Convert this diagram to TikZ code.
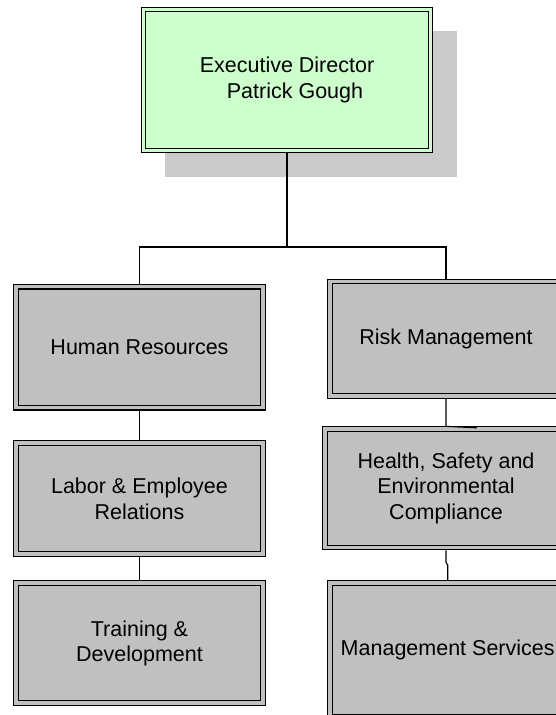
\documentclass[tikz,border=0pt]{standalone}
\usepackage{fontspec}
\setmainfont{Liberation Sans}
\usetikzlibrary{backgrounds}
\definecolor{boxgray}{HTML}{C0C0C0}
\definecolor{mint}{HTML}{CCFFCC}
\definecolor{shadowgray}{HTML}{CBCBCB}
\tikzset{
  unit/.style={draw=black, line width=1.1pt, double distance=3.6pt,
    outer sep=2.9pt, inner sep=0pt, align=center,
    font=\fontsize{21.5}{25.5}\selectfont},
  dept/.style={unit, double=boxgray, fill=boxgray},
  head/.style={unit, double=mint, fill=mint, double distance=2.6pt, outer sep=2.4pt},
  link/.style={draw=black, line width=1.1pt}
}
\begin{document}
\begin{tikzpicture}[x=1pt, y=-1pt]
  \clip (0,0) rectangle (556,715);

  % director
  \node[head, minimum width=287pt, minimum height=141pt] (exec) at (287,80)
    {Executive Director\\\hspace*{16pt}Patrick Gough};
  \begin{scope}[on background layer]
    \fill[white] (0,0) rectangle (556,715);
    \fill[shadowgray] ([shift={(24pt,-24pt)}]exec.north west) rectangle ([shift={(24pt,-24pt)}]exec.south east);
  \end{scope}

  % left column
  \node[dept, minimum width=247.5pt, minimum height=121pt] (hr) at (139.5,347.1) {Human Resources};
  \node[dept, minimum width=247.5pt, minimum height=111pt] (labor) at (139.5,498.7) {Labor \& Employee\\Relations};
  \node[dept, minimum width=247.5pt, minimum height=120pt] (train) at (139.5,643.2) {Training \&\\Development};

  % right column
  \node[dept, minimum width=232pt, minimum height=114.3pt] (risk) at (446,338.7) {Risk Management};
  \node[dept, minimum width=241.6pt, minimum height=118.3pt] (hsec) at (446,488.4) {Health, Safety and\\Environmental\\Compliance};
  \node[dept, minimum width=235.8pt, minimum height=133.3pt] (mgmt) at (447.7,649.9) {Management Services};

  % reporting lines
  \coordinate (bus) at (287,247);
  \draw[link] (exec.south) -- (bus);
  \draw[link] (hr.north) |- (bus) -| (risk.north);
  \draw[link] (hr.south) -- (labor.north);
  \draw[link] (labor.south) -- (train.north);
  \draw[link] (risk.south) -- (hsec.north) -- ++(31,1.5);
  \draw[link] (hsec.south) -- ++(0,12) -- ++(1.7,2.5) -- (mgmt.north);
\end{tikzpicture}
\end{document}
